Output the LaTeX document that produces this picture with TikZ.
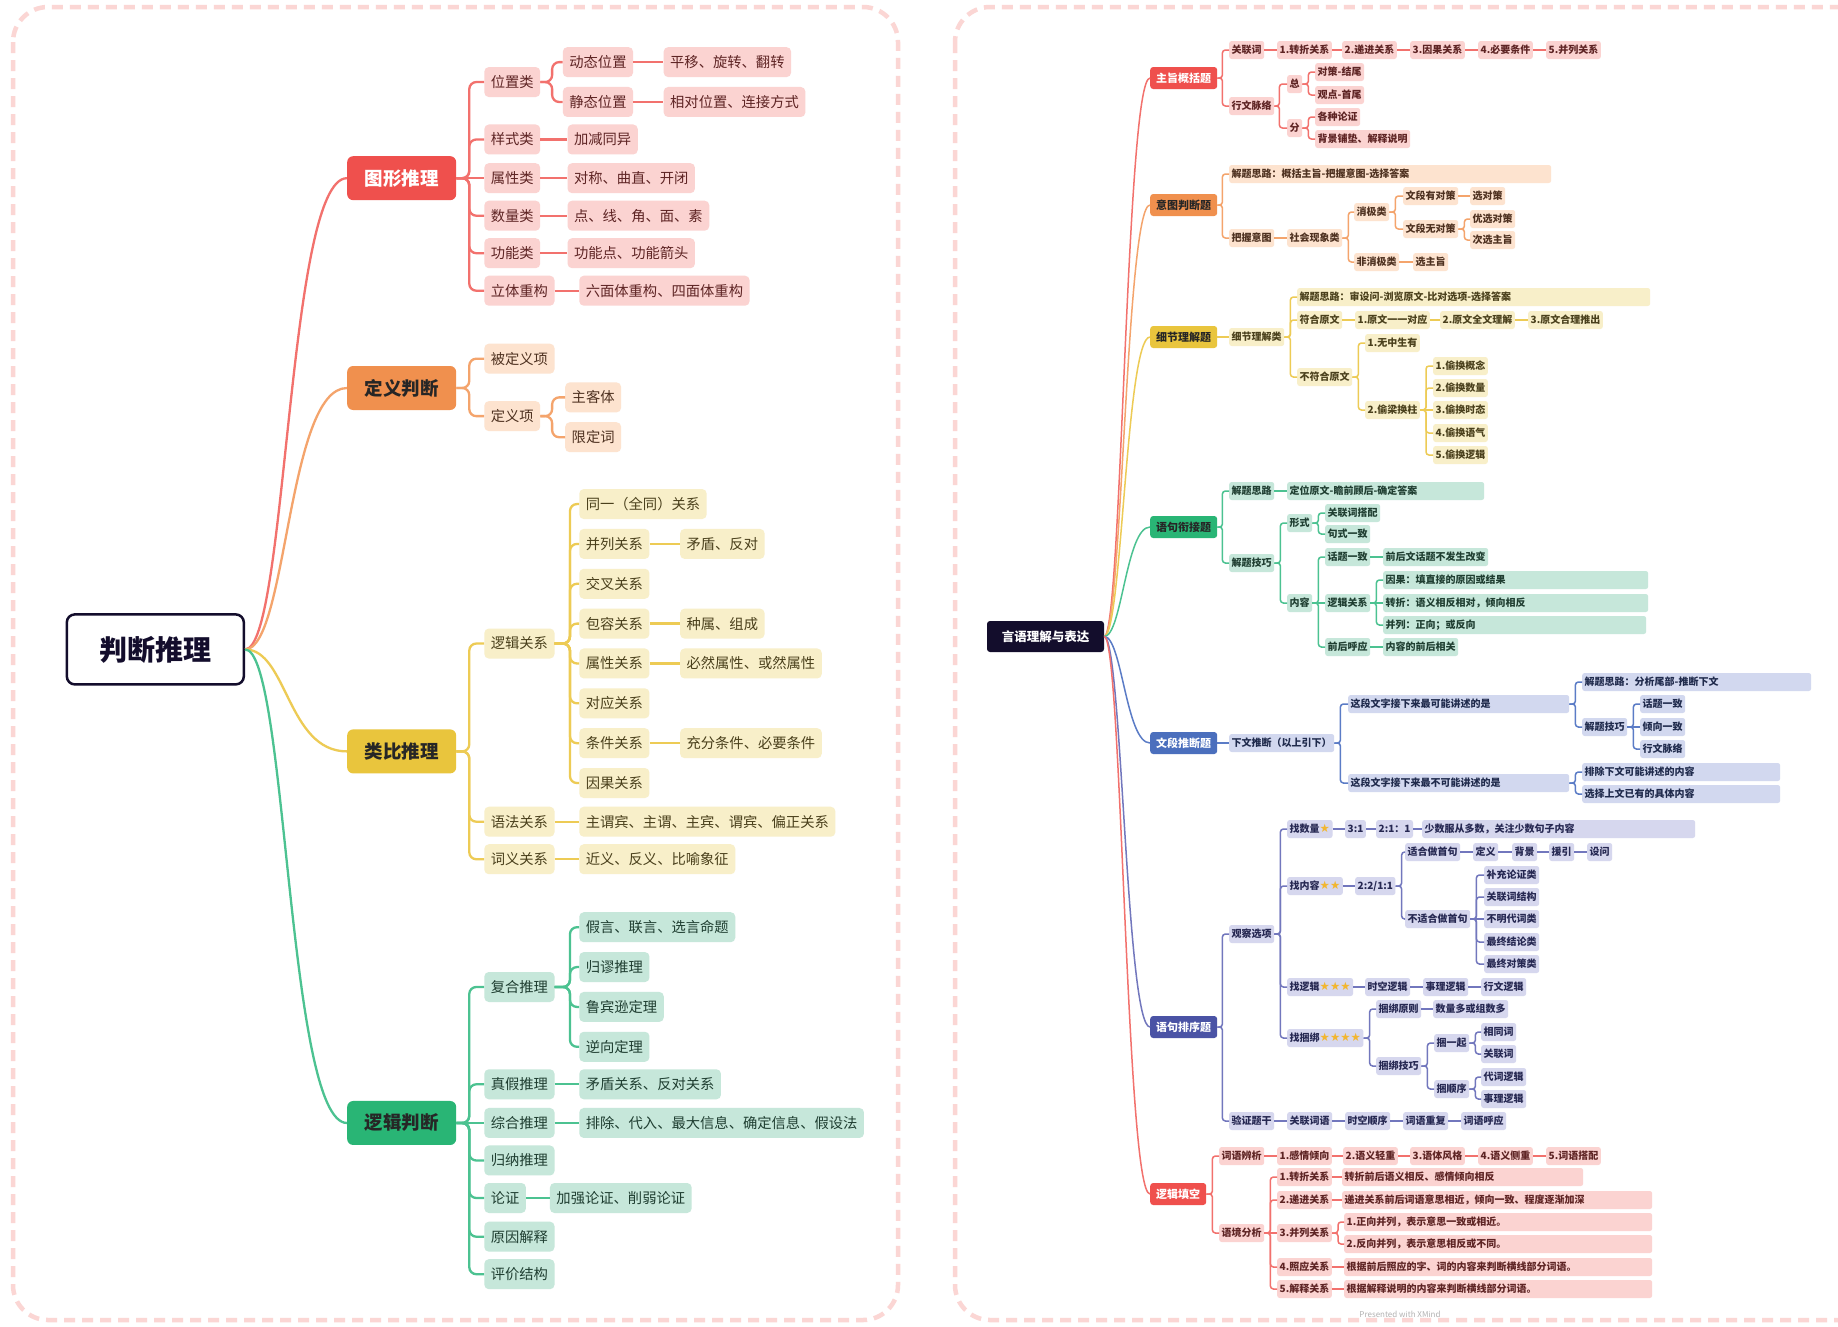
\documentclass[tikz,border=0pt]{standalone}
\usepackage{fontspec}
\setmainfont{Noto Sans CJK SC}
\newfontfamily\dejav{DejaVu Sans}
\definecolor{RL}{HTML}{F2716D}
\definecolor{RF}{HTML}{FBD3D1}
\definecolor{RT}{HTML}{5E2424}
\definecolor{RM}{HTML}{EF504D}
\definecolor{OL}{HTML}{F4A46C}
\definecolor{OF}{HTML}{FDE3CF}
\definecolor{OT}{HTML}{4E3120}
\definecolor{OM}{HTML}{F0904E}
\definecolor{YL}{HTML}{EDCB55}
\definecolor{YF}{HTML}{F8EFC9}
\definecolor{YT}{HTML}{4A401C}
\definecolor{YM}{HTML}{E9C53D}
\definecolor{GL}{HTML}{4CC291}
\definecolor{GF}{HTML}{C6E7DA}
\definecolor{GT}{HTML}{1F3E31}
\definecolor{GM}{HTML}{29B575}
\definecolor{BL}{HTML}{5B7CC6}
\definecolor{BF}{HTML}{D2D8EF}
\definecolor{BT}{HTML}{1F2A4C}
\definecolor{BM}{HTML}{4B6FBD}
\definecolor{IL}{HTML}{7277BD}
\definecolor{IF}{HTML}{D6D7EE}
\definecolor{IT}{HTML}{262852}
\definecolor{IM}{HTML}{4A53A5}
\definecolor{BD}{HTML}{FBD6D4}
\definecolor{starc}{HTML}{F2B630}
\definecolor{rootc}{HTML}{130D2C}
\newcommand\mmstar{{\dejav\fontsize{11.5}{12}\selectfont\color{starc}\char"2605}}
\newcommand\mmk[4]{\foreach \mmc in {#4}{\draw[#1] (#2.east) -- ++(#3,0) |- (\mmc.west);}}
\newcommand\mml[3]{\draw[#1] (#2.east) -- (#3.west);}
\newcommand\mmch[2]{\foreach \mma/\mmb in {#2}{\draw[#1] (\mma.east) -- (\mmb.west);}}
\tikzset{
 lnode/.style={rounded corners=4.5pt, inner xsep=6.5pt, inner ysep=0pt, minimum height=30pt, font=\fontsize{14.3}{16}\selectfont, anchor=west},
 lR/.style={lnode, fill=RF, text=RT},
 lO/.style={lnode, fill=OF, text=OT},
 lY/.style={lnode, fill=YF, text=YT},
 lG/.style={lnode, fill=GF, text=GT},
 lmain/.style={rounded corners=6pt, minimum width=109pt, minimum height=44pt, inner sep=0pt, anchor=west, font=\fontsize{18.5}{20}\selectfont\bfseries},
 llR/.style={draw=RL, line width=2.3pt, rounded corners=7pt},
 llO/.style={draw=OL, line width=2.3pt, rounded corners=7pt},
 llY/.style={draw=YL, line width=2.3pt, rounded corners=7pt},
 llG/.style={draw=GL, line width=2.3pt, rounded corners=7pt},
 rnode/.style={rounded corners=2.5pt, inner xsep=2.5pt, inner ysep=0pt, minimum height=18pt, font=\fontsize{10}{12}\selectfont\bfseries, anchor=west},
 rR/.style={rnode, fill=RF, text=RT},
 rO/.style={rnode, fill=OF, text=OT},
 rY/.style={rnode, fill=YF, text=YT},
 rG/.style={rnode, fill=GF, text=GT},
 rB/.style={rnode, fill=BF, text=BT},
 rI/.style={rnode, fill=IF, text=IT},
 rmain/.style={rounded corners=3pt, minimum width=67pt, minimum height=22pt, inner sep=0pt, anchor=west, font=\fontsize{11}{13}\selectfont\bfseries},
 rlR/.style={draw=RL, line width=1.5pt, rounded corners=3pt},
 rlO/.style={draw=OL, line width=1.5pt, rounded corners=3pt},
 rlY/.style={draw=YL, line width=1.5pt, rounded corners=3pt},
 rlG/.style={draw=GL, line width=1.5pt, rounded corners=3pt},
 rlB/.style={draw=BL, line width=1.5pt, rounded corners=3pt},
 rlI/.style={draw=IL, line width=1.5pt, rounded corners=3pt},
 wide/.style={text width=#1, align=left},
 border/.style={draw=BD, line width=4.5pt, dash pattern=on 11pt off 7pt, rounded corners=35pt},
}
\begin{document}
\begin{tikzpicture}[x=1pt,y=-1pt]
\useasboundingbox (0,0) rectangle (1838,1326);
\fill[white] (0,0) rectangle (1838,1326);
\clip (0,0) rectangle (1838,1326);
\draw[border] (13,7) rectangle (898,1320);
\draw[border] (955,7) rectangle (1880,1320);

% ================= LEFT =================
\begin{scope}[x=1.1722pt,y=-1.1722pt]
\node[draw=rootc, line width=2.5pt, fill=white, rounded corners=8pt, minimum width=177pt, minimum height=70pt, font=\fontsize{28}{30}\selectfont\bfseries, text=rootc] (lroot) at (132.5,554) {判断推理};
\node[lmain, fill=RM, text=white] (tx) at (296,152) {图形推理};
\node[lmain, fill=OM, text=black!85] (dy) at (296,331) {定义判断};
\node[lmain, fill=YM, text=black!85] (lb) at (296,641) {类比推理};
\node[lmain, fill=GM, text=black!85] (lj) at (296,958) {逻辑判断};
\draw[llR] (lroot.east) .. controls (245,554) and (245,152) .. (tx.west);
\draw[llO] (lroot.east) .. controls (245,554) and (245,331) .. (dy.west);
\draw[llY] (lroot.east) .. controls (245,554) and (245,641) .. (lb.west);
\draw[llG] (lroot.east) .. controls (245,554) and (245,958) .. (lj.west);

% 图形推理
\node[lR] (wzl) at (413,70) {位置类};
\node[lR] (dtwz) at (480,53) {动态位置};
\node[lR] (pyxz) at (566,53) {平移、旋转、翻转};
\node[lR] (jtwz) at (480,87) {静态位置};
\node[lR] (xdwz) at (566,87) {相对位置、连接方式};
\node[lR] (ysl) at (413,119) {样式类};
\node[lR] (jjty) at (484,119) {加减同异};
\node[lR] (sxl) at (413,152) {属性类};
\node[lR] (dcqz) at (484,152) {对称、曲直、开闭};
\node[lR] (sll) at (413,184) {数量类};
\node[lR] (dxjm) at (484,184) {点、线、角、面、素};
\node[lR] (gnl) at (413,216) {功能类};
\node[lR] (gnd) at (484,216) {功能点、功能箭头};
\node[lR] (ltcg) at (413,248) {立体重构};
\node[lR] (lmt) at (494,248) {六面体重构、四面体重构};
\mmk{llR}{tx}{11}{wzl,ysl,sll,gnl,ltcg}
\mml{llR}{tx}{sxl}
\mmk{llR}{wzl}{10}{dtwz,jtwz}
\mmch{llR}{dtwz/pyxz,jtwz/xdwz,ysl/jjty,sxl/dcqz,sll/dxjm,gnl/gnd,ltcg/lmt}

% 定义判断
\node[lO] (bdyx) at (413,306) {被定义项};
\node[lO] (dyx) at (413,355) {定义项};
\node[lO] (zkt) at (482,339) {主客体};
\node[lO] (xdc) at (482,373) {限定词};
\mmk{llO}{dy}{11}{bdyx,dyx}
\mmk{llO}{dyx}{10}{zkt,xdc}

% 类比推理
\node[lY] (ljgx) at (413,549) {逻辑关系};
\node[lY] (tygx) at (494,430) {同一（全同）关系};
\node[lY] (blgx) at (494,464) {并列关系};
\node[lY] (mdfd) at (580,464) {矛盾、反对};
\node[lY] (jcgx) at (494,498) {交叉关系};
\node[lY] (brgx) at (494,532) {包容关系};
\node[lY] (zszc) at (580,532) {种属、组成};
\node[lY] (sxgx) at (494,566) {属性关系};
\node[lY] (bysx) at (580,566) {必然属性、或然属性};
\node[lY] (dygx) at (494,600) {对应关系};
\node[lY] (tjgx) at (494,634) {条件关系};
\node[lY] (cftj) at (580,634) {充分条件、必要条件};
\node[lY] (yggx) at (494,668) {因果关系};
\node[lY] (yfgx) at (413,701) {语法关系};
\node[lY] (zwb) at (494,701) {主谓宾、主谓、主宾、谓宾、偏正关系};
\node[lY] (cygx) at (413,733) {词义关系};
\node[lY] (jyfy) at (494,733) {近义、反义、比喻象征};
\mmk{llY}{lb}{11}{ljgx,yfgx,cygx}
\mmk{llY}{ljgx}{13}{tygx,blgx,jcgx,brgx,sxgx,dygx,tjgx,yggx}
\mmch{llY}{blgx/mdfd,brgx/zszc,sxgx/bysx,tjgx/cftj,yfgx/zwb,cygx/jyfy}

% 逻辑判断
\node[lG] (fhtl) at (413,842) {复合推理};
\node[lG] (jyly) at (494,791) {假言、联言、选言命题};
\node[lG] (gmtl) at (494,825) {归谬推理};
\node[lG] (lbxd) at (494,859) {鲁宾逊定理};
\node[lG] (nxdl) at (494,893) {逆向定理};
\node[lG] (zjtl) at (413,925) {真假推理};
\node[lG] (mdgx) at (494,925) {矛盾关系、反对关系};
\node[lG] (zhtl) at (413,958) {综合推理};
\node[lG] (pcdr) at (494,958) {排除、代入、最大信息、确定信息、假设法};
\node[lG] (gntl) at (413,990) {归纳推理};
\node[lG] (lz) at (413,1022) {论证};
\node[lG] (jqlz) at (469,1022) {加强论证、削弱论证};
\node[lG] (yyjs) at (413,1055) {原因解释};
\node[lG] (pjjg) at (413,1087) {评价结构};
\mmk{llG}{lj}{11}{fhtl,zjtl,gntl,lz,yyjs,pjjg}
\mml{llG}{lj}{zhtl}
\mmk{llG}{fhtl}{13}{jyly,gmtl,lbxd,nxdl}
\mmch{llG}{zjtl/mdgx,zhtl/pcdr,lz/jqlz}
\end{scope}

% ================= RIGHT =================
\node[fill=rootc, text=white, rounded corners=3pt, minimum width=117pt, minimum height=31pt, inner sep=0pt, font=\fontsize{12.5}{14}\selectfont\bfseries] (rroot) at (1045.5,636.5) {言语理解与表达};
\node[rmain, fill=RM, text=white] (zz) at (1150,78) {主旨概括题};
\node[rmain, fill=OM, text=black!85] (yt) at (1150,205) {意图判断题};
\node[rmain, fill=YM, text=black!85] (xj) at (1150,337) {细节理解题};
\node[rmain, fill=GM, text=black!85] (yx) at (1150,527) {语句衔接题};
\node[rmain, fill=BM, text=white] (wd) at (1150,743) {文段推断题};
\node[rmain, fill=IM, text=white] (yp) at (1150,1027) {语句排序题};
\node[rmain, fill=RM, text=white, minimum width=56pt] (lt) at (1150,1194) {逻辑填空};
\draw[rlR] (rroot.east) .. controls (1122,636.5) and (1126,78) .. (zz.west);
\draw[rlO] (rroot.east) .. controls (1122,636.5) and (1126,205) .. (yt.west);
\draw[rlY] (rroot.east) .. controls (1122,636.5) and (1126,337) .. (xj.west);
\draw[rlG] (rroot.east) .. controls (1122,636.5) and (1126,527) .. (yx.west);
\draw[rlB] (rroot.east) .. controls (1122,636.5) and (1126,743) .. (wd.west);
\draw[rlI] (rroot.east) .. controls (1122,636.5) and (1126,1027) .. (yp.west);
\draw[rlR] (rroot.east) .. controls (1122,636.5) and (1126,1194) .. (lt.west);

% 主旨概括题
\node[rR] (glc) at (1229,50) {关联词};
\node[rR] (zz1) at (1277,50) {1.转折关系};
\node[rR] (zz2) at (1342,50) {2.递进关系};
\node[rR] (zz3) at (1410,50) {3.因果关系};
\node[rR] (zz4) at (1478,50) {4.必要条件};
\node[rR] (zz5) at (1546,50) {5.并列关系};
\node[rR] (xwml) at (1229,106) {行文脉络};
\node[rR] (zong) at (1287,84) {总};
\node[rR] (dcjw) at (1315,72) {对策-结尾};
\node[rR] (gdsw) at (1315,95) {观点-首尾};
\node[rR] (fen) at (1287,128) {分};
\node[rR] (gzlz) at (1315,117) {各种论证};
\node[rR] (bjpd) at (1315,139) {背景铺垫、解释说明};
\mmk{rlR}{zz}{5}{glc,xwml}
\mmch{rlR}{glc/zz1,zz1/zz2,zz2/zz3,zz3/zz4,zz4/zz5}
\mmk{rlR}{xwml}{5}{zong,fen}
\mmk{rlR}{zong}{6}{dcjw,gdsw}
\mmk{rlR}{fen}{6}{gzlz,bjpd}

% 意图判断题
\node[rO, wide=317pt] (ytjt) at (1229,174) {解题思路：概括主旨-把握意图-选择答案};
\node[rO] (bwyt) at (1229,238) {把握意图};
\node[rO] (shxx) at (1287,238) {社会现象类};
\node[rO] (xjl) at (1354,212) {消极类};
\node[rO] (wdyd) at (1403,196) {文段有对策};
\node[rO] (xdc2) at (1470,196) {选对策};
\node[rO] (wdwd) at (1403,229) {文段无对策};
\node[rO] (yxdc) at (1470,219) {优选对策};
\node[rO] (cxzz) at (1470,240) {次选主旨};
\node[rO] (fxjl) at (1354,262) {非消极类};
\node[rO] (xzz) at (1413,262) {选主旨};
\mmk{rlO}{yt}{5}{ytjt,bwyt}
\mmch{rlO}{bwyt/shxx,wdyd/xdc2,fxjl/xzz}
\mmk{rlO}{shxx}{6}{xjl,fxjl}
\mmk{rlO}{xjl}{6}{wdyd,wdwd}
\mmk{rlO}{wdwd}{6}{yxdc,cxzz}

% 细节理解题
\node[rY] (xjll) at (1229,337) {细节理解类};
\node[rY, wide=348pt] (xjjt) at (1297,297) {解题思路：审设问-浏览原文-比对选项-选择答案};
\node[rY] (fhyw) at (1297,320) {符合原文};
\node[rY] (yw1) at (1355,320) {1.原文一一对应};
\node[rY] (yw2) at (1440,320) {2.原文全文理解};
\node[rY] (yw3) at (1528,320) {3.原文合理推出};
\node[rY] (bfhyw) at (1297,377) {不符合原文};
\node[rY] (wzsy) at (1365,343) {1.无中生有};
\node[rY] (tlhz) at (1365,410) {2.偷梁换柱};
\node[rY] (th1) at (1433,366) {1.偷换概念};
\node[rY] (th2) at (1433,388) {2.偷换数量};
\node[rY] (th3) at (1433,410) {3.偷换时态};
\node[rY] (th4) at (1433,433) {4.偷换语气};
\node[rY] (th5) at (1433,455) {5.偷换逻辑};
\mml{rlY}{xj}{xjll}
\mmk{rlY}{xjll}{6}{xjjt,fhyw,bfhyw}
\mmch{rlY}{fhyw/yw1,yw1/yw2,yw2/yw3}
\mmk{rlY}{bfhyw}{6}{wzsy,tlhz}
\mmk{rlY}{tlhz}{6}{th1,th2,th4,th5}
\mml{rlY}{tlhz}{th3}

% 语句衔接题
\node[rG] (jtsl) at (1229,491) {解题思路};
\node[rG, wide=192pt] (dwyw) at (1287,491) {定位原文-瞻前顾后-确定答案};
\node[rG] (jtjq) at (1229,563) {解题技巧};
\node[rG] (xs) at (1287,523) {形式};
\node[rG] (glcdp) at (1325,513) {关联词搭配};
\node[rG] (jsyz) at (1325,534) {句式一致};
\node[rG] (nr) at (1287,603) {内容};
\node[rG] (htyz) at (1325,557) {话题一致};
\node[rG] (qhwht) at (1383,557) {前后文话题不发生改变};
\node[rG] (ljgx2) at (1325,603) {逻辑关系};
\node[rG, wide=260pt] (yg) at (1383,580) {因果：填直接的原因或结果};
\node[rG, wide=260pt] (zhe) at (1383,603) {转折：语义相反相对，倾向相反};
\node[rG, wide=258pt] (bl) at (1383,625) {并列：正向；或反向};
\node[rG] (qhhy) at (1325,647) {前后呼应};
\node[rG] (nrqh) at (1383,647) {内容的前后相关};
\mmk{rlG}{yx}{5}{jtsl,jtjq}
\mml{rlG}{jtsl}{dwyw}
\mmk{rlG}{jtjq}{6}{xs,nr}
\mmk{rlG}{xs}{6}{glcdp,jsyz}
\mmk{rlG}{nr}{6}{htyz,qhhy}
\mml{rlG}{nr}{ljgx2}
\mmch{rlG}{htyz/qhwht,qhhy/nrqh,ljgx2/zhe}
\mmk{rlG}{ljgx2}{6}{yg,bl}

% 文段推断题
\node[rB] (xwtd) at (1229,743) {下文推断（以上引下）};
\node[rB, wide=216pt] (kn) at (1348,704) {这段文字接下来最可能讲述的是};
\node[rB, wide=224pt] (wdjt) at (1582,682) {解题思路：分析尾部-推断下文};
\node[rB] (wdjq) at (1582,727) {解题技巧};
\node[rB] (wdht) at (1640,704) {话题一致};
\node[rB] (wdqx) at (1640,727) {倾向一致};
\node[rB] (wdxw) at (1640,749) {行文脉络};
\node[rB, wide=216pt] (bkn) at (1348,783) {这段文字接下来最不可能讲述的是};
\node[rB, wide=193pt] (pc) at (1582,772) {排除下文可能讲述的内容};
\node[rB, wide=193pt] (xz) at (1582,794) {选择上文已有的具体内容};
\mml{rlB}{wd}{xwtd}
\mmk{rlB}{xwtd}{6}{kn,bkn}
\mmk{rlB}{kn}{6}{wdjt,wdjq}
\mmk{rlB}{wdjq}{6}{wdht,wdxw}
\mml{rlB}{wdjq}{wdqx}
\mmk{rlB}{bkn}{6}{pc,xz}

% 语句排序题
\node[rI] (gcxx) at (1229,934) {观察选项};
\node[rI] (zsl) at (1287,829) {找数量\mmstar};
\node[rI] (s31) at (1345,829) {3:1};
\node[rI] (s211) at (1376,829) {2:1：1};
\node[rI, wide=268pt] (ssfc) at (1422,829) {少数服从多数，关注少数句子内容};
\node[rI] (znr) at (1287,886) {找内容\mmstar\mmstar};
\node[rI] (s22) at (1355,886) {2:2/1:1};
\node[rI] (shsj) at (1405,852) {适合做首句};
\node[rI] (dingyi) at (1473,852) {定义};
\node[rI] (beij) at (1512,852) {背景};
\node[rI] (yuany) at (1549,852) {援引};
\node[rI] (shew) at (1587,852) {设问};
\node[rI] (bshsj) at (1405,919) {不适合做首句};
\node[rI] (bc1) at (1484,875) {补充论证类};
\node[rI] (bc2) at (1484,897) {关联词结构};
\node[rI] (bc3) at (1484,919) {不明代词类};
\node[rI] (bc4) at (1484,942) {最终结论类};
\node[rI] (bc5) at (1484,964) {最终对策类};
\node[rI] (zlj) at (1287,987) {找逻辑\mmstar\mmstar\mmstar};
\node[rI] (sklj) at (1365,987) {时空逻辑};
\node[rI] (sllj) at (1423,987) {事理逻辑};
\node[rI] (xwlj) at (1481,987) {行文逻辑};
\node[rI] (zkb) at (1287,1038) {找捆绑\mmstar\mmstar\mmstar\mmstar};
\node[rI] (kbyz) at (1376,1009) {捆绑原则};
\node[rI] (slds) at (1433,1009) {数量多或组数多};
\node[rI] (kbjq) at (1376,1066) {捆绑技巧};
\node[rI] (kyq) at (1434,1043) {捆一起};
\node[rI] (xtc) at (1481,1032) {相同词};
\node[rI] (glc2) at (1481,1054) {关联词};
\node[rI] (ksx) at (1434,1089) {捆顺序};
\node[rI] (dclj) at (1481,1077) {代词逻辑};
\node[rI] (sllj2) at (1481,1099) {事理逻辑};
\node[rI] (yztg) at (1229,1121) {验证题干};
\node[rI] (glcy) at (1287,1121) {关联词语};
\node[rI] (sksx) at (1345,1121) {时空顺序};
\node[rI] (cycf) at (1403,1121) {词语重复};
\node[rI] (cyhy) at (1461,1121) {词语呼应};
\mmk{rlI}{yp}{5}{gcxx,yztg}
\mmk{rlI}{gcxx}{6}{zsl,znr,zlj,zkb}
\mmch{rlI}{zsl/s31,s31/s211,s211/ssfc,znr/s22,shsj/dingyi,dingyi/beij,beij/yuany,yuany/shew,zlj/sklj,sklj/sllj,sllj/xwlj,kbyz/slds,yztg/glcy,glcy/sksx,sksx/cycf,cycf/cyhy}
\mmk{rlI}{s22}{6}{shsj,bshsj}
\mmk{rlI}{bshsj}{6}{bc1,bc2,bc4,bc5}
\mml{rlI}{bshsj}{bc3}
\mmk{rlI}{zkb}{6}{kbyz,kbjq}
\mmk{rlI}{kbjq}{6}{kyq,ksx}
\mmk{rlI}{kyq}{6}{xtc,glc2}
\mmk{rlI}{ksx}{6}{dclj,sllj2}

% 逻辑填空
\node[rR] (cybx) at (1219,1156) {词语辨析};
\node[rR] (lt1) at (1277,1156) {1.感情倾向};
\node[rR] (lt2) at (1343,1156) {2.语义轻重};
\node[rR] (lt3) at (1410,1156) {3.语体风格};
\node[rR] (lt4) at (1478,1156) {4.语义侧重};
\node[rR] (lt5) at (1546,1156) {5.词语搭配};
\node[rR] (yjfx) at (1219,1233) {语境分析};
\node[rR] (gx1) at (1277,1177) {1.转折关系};
\node[rR, wide=236pt] (gx1t) at (1342,1177) {转折前后语义相反、感情倾向相反};
\node[rR] (gx2) at (1277,1200) {2.递进关系};
\node[rR, wide=305pt] (gx2t) at (1342,1200) {递进关系前后词语意思相近，倾向一致、程度逐渐加深};
\node[rR] (gx3) at (1277,1233) {3.并列关系};
\node[rR, wide=303pt] (gx3a) at (1344,1222) {1.正向并列，表示意思一致或相近。};
\node[rR, wide=303pt] (gx3b) at (1344,1244) {2.反向并列，表示意思相反或不同。};
\node[rR] (gx4) at (1277,1267) {4.照应关系};
\node[rR, wide=303pt] (gx4t) at (1344,1267) {根据前后照应的字、词的内容来判断横线部分词语。};
\node[rR] (gx5) at (1277,1289) {5.解释关系};
\node[rR, wide=303pt] (gx5t) at (1344,1289) {根据解释说明的内容来判断横线部分词语。};
\mmk{rlR}{lt}{6}{cybx,yjfx}
\mmch{rlR}{cybx/lt1,lt1/lt2,lt2/lt3,lt3/lt4,lt4/lt5,gx1/gx1t,gx2/gx2t,gx4/gx4t,gx5/gx5t}
\mmk{rlR}{yjfx}{6}{gx1,gx2,gx4,gx5}
\mml{rlR}{yjfx}{gx3}
\mmk{rlR}{gx3}{6}{gx3a,gx3b}

\node[font=\fontsize{8}{9}\selectfont, text=black!30] (xmind) at (1400,1314) {Presented with XMind};
\end{tikzpicture}
\end{document}
